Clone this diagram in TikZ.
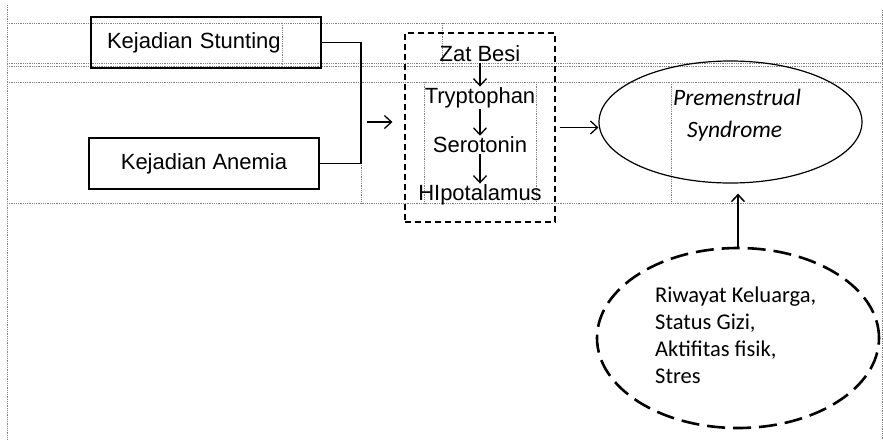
\documentclass[tikz,border=0pt]{standalone}
\usepackage{fontspec}
\setmainfont{Liberation Sans}
\newfontfamily\calibri{Carlito}
\usetikzlibrary{shapes.geometric,arrows.meta}

\begin{document}
\begin{tikzpicture}[x=1pt,y=-1pt,
    grid/.style={densely dotted,gray,line width=0.8pt},
    box/.style={draw,line width=1.2pt,minimum width=230pt,minimum height=51pt},
    lbl/.style={inner sep=1pt,font=\fontsize{22}{26}\selectfont},
    arr/.style={-{Straight Barb[length=7pt,width=13pt]},line width=1.3pt}]
  \useasboundingbox (0,0) rectangle (883,440);
  % table grid
  \draw[grid] (7,5) -- (7,440);
  \draw[grid] (882,10) -- (882,440);
  \foreach \y in {23,63,66,82,203} \draw[grid] (7,\y) -- (882,\y);
  \draw[grid] (282,23) -- (282,66);
  \draw[grid] (442,23) -- (442,63);
  \foreach \x in {361,424,536,671} \draw[grid] (\x,82) -- (\x,203);

  \node[box,lbl,align=left,text width=198pt,inner xsep=16pt] (stunting) at (206,42.5) {Kejadian Stunting};
  \node[box,lbl] (anemia) at (204,163.5) {Kejadian Anemia};
  \coordinate (brk) at (361,122);
  \draw[line width=1.2pt] (stunting.east) -| (brk) |- (anemia.east);

  \node[draw,line width=1.2pt,dash pattern=on 6pt off 4pt,minimum width=150pt,minimum height=189pt] (chain) at (480,127.5) {};
  \node[lbl] (zat) at (480,54) {Zat Besi};
  \node[lbl] (tryp) at (480,98) {Tryptophan};
  \node[lbl] (sero) at (480,145) {Serotonin};
  \node[lbl] (hipo) at (480,195) {HIpotalamus};
  \draw[arr] (zat) -- (tryp);
  \draw[arr] (tryp) -- (sero);
  \draw[arr] (sero) -- (hipo);
  \draw[arr,shorten <=6pt,shorten >=12pt] (brk) -- (brk -| chain.west);

  \node[ellipse,draw,line width=1.2pt,minimum width=263pt,minimum height=122pt] (pms) at (730.5,122) {};
  \node[anchor=north west,align=left,inner sep=0pt,font=\calibri\itshape\fontsize{23.5}{32}\selectfont] (pmstext) at (673,89) {Premenstrual\\\hspace*{14pt}Syndrome};
  \draw[arr,shorten <=4pt] (chain.east) -- (chain.east -| pms.west);

  \node[ellipse,draw,line width=2.6pt,dash pattern=on 18pt off 8pt,minimum width=282pt,minimum height=180pt] (faktor) at (738,338) {};
  \node[anchor=north west,align=left,inner sep=0pt,font=\calibri\fontsize{22.5}{27}\selectfont] (faktortext) at (655,287) {Riwayat Keluarga,\\Status Gizi,\\Aktifitas fisik,\\Stres};
  \draw[arr,line width=1.5pt,shorten >=10pt] (faktor.north) -- (faktor.north |- pms.south);
\end{tikzpicture}
\end{document}
